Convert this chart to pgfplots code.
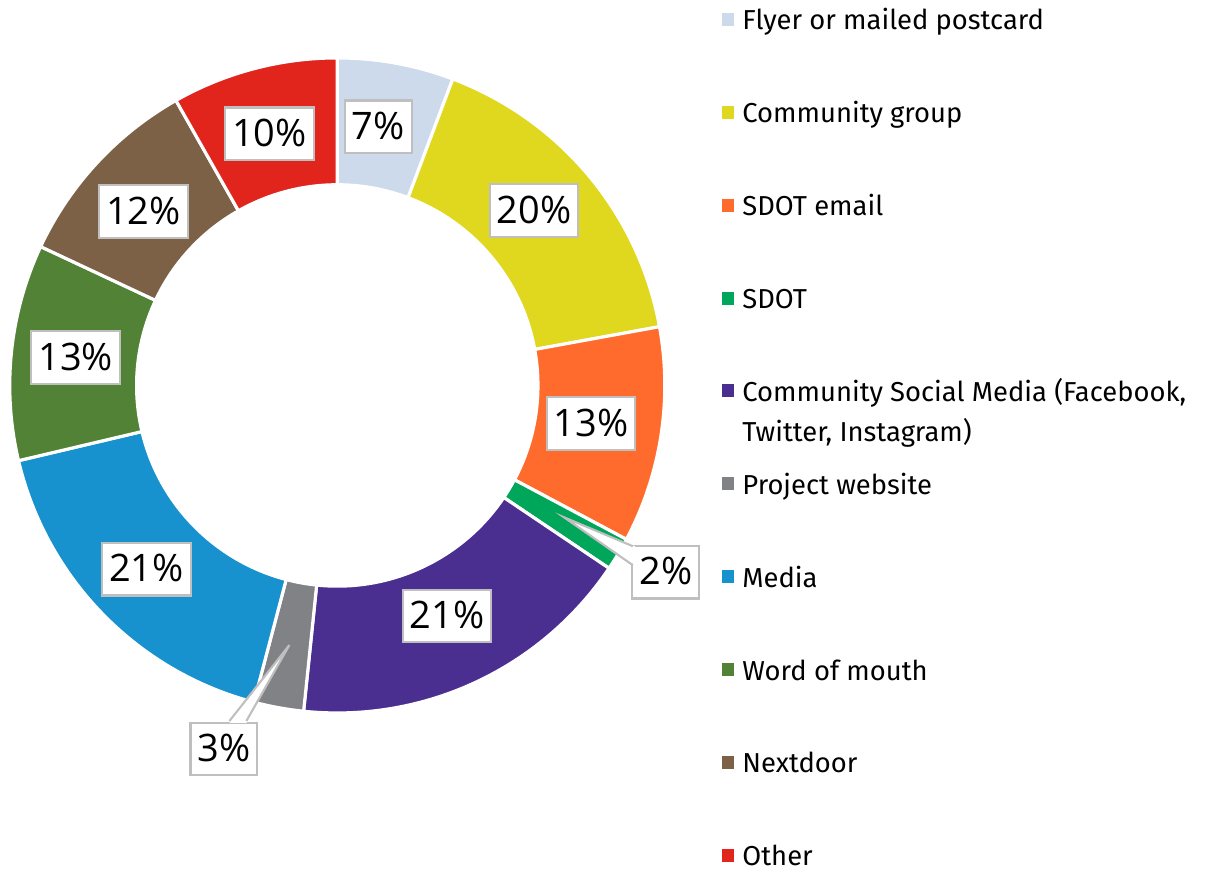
\documentclass[border=0pt]{standalone}
\usepackage{pgfplots}
\pgfplotsset{compat=1.18}
\usepackage{fontspec}
\setmainfont{Fira Sans}
\newfontfamily\labfont{Open Sans}
\usetikzlibrary{calc}
\definecolor{cFly}{HTML}{CCDAEC}
\definecolor{cComm}{HTML}{E0D81E}
\definecolor{cEmail}{HTML}{FF6B2C}
\definecolor{cSdot}{HTML}{00A65A}
\definecolor{cCsm}{HTML}{4A2F91}
\definecolor{cWeb}{HTML}{808285}
\definecolor{cMedia}{HTML}{1891CF}
\definecolor{cWom}{HTML}{528236}
\definecolor{cNext}{HTML}{7D6147}
\definecolor{cOther}{HTML}{E1241C}
\definecolor{cBox}{HTML}{BFBFBF}
\tikzset{
  lab/.style={fill=white, draw=cBox, line width=0.6pt, font=\labfont\fontsize{10.8}{12}\selectfont,
    text height=0.72em, text depth=0pt, inner xsep=2pt, inner ysep=3.9pt},
  leg/.style={anchor=base west, inner sep=0pt, font=\fontsize{7.8}{10.5}\selectfont}}
\begin{document}
\begin{tikzpicture}
\begin{axis}[hide axis, scale only axis, width=12.2cm, height=8.71cm,
  xmin=0, xmax=1220, ymin=0, ymax=871, y dir=reverse, clip=false]
\path (axis cs:0,0) rectangle (axis cs:1220,871);
% data: shares (percent of respondents, total 122)
\gdef\cum{0}
\foreach \v/\col in {7/cFly,20/cComm,13/cEmail,2/cSdot,21/cCsm,3/cWeb,21/cMedia,13/cWom,12/cNext,10/cOther}{
  \pgfmathsetmacro\a{90-(\cum/122)*360}
  \pgfmathsetmacro\nc{\cum+\v}
  \pgfmathsetmacro\b{90-(\nc/122)*360}
  \xdef\cum{\nc}
  \edef\temp{\noexpand\fill[\col,draw=white,line width=0.9pt,line join=round]
    ($(axis cs:336,386)+(\a:3.28cm)$) arc[start angle=\a,end angle=\b,radius=3.28cm]
    -- ($(axis cs:336,386)+(\b:2.01cm)$) arc[start angle=\b,end angle=\a,radius=2.01cm] -- cycle;}
  \temp
}
% data labels
\node[lab] at (axis cs:377,127) {7\%};
\node[lab] at (axis cs:533,211) {20\%};
\node[lab] at (axis cs:590,424) {13\%};
\node[lab] at (axis cs:446,617) {21\%};
\node[lab] at (axis cs:145,570) {21\%};
\node[lab] at (axis cs:74,358) {13\%};
\node[lab] at (axis cs:142,212) {12\%};
\node[lab] at (axis cs:268,134) {10\%};
\node[lab] at (axis cs:665,573) {2\%};
\node[lab] at (axis cs:222.5,750) {3\%};
% leaders
\fill[white] (axis cs:563,518) -- (axis cs:634,547) -- (axis cs:634,566) -- cycle;
\draw[cBox,line width=0.6pt] (axis cs:632,547) -- (axis cs:563,518) -- (axis cs:632,566);
\fill[white] (axis cs:288,646) -- (axis cs:228,724) -- (axis cs:245,724) -- cycle;
\draw[cBox,line width=0.6pt] (axis cs:228,722) -- (axis cs:288,646) -- (axis cs:245,722);
% legend
\fill[cFly]   (axis cs:721,13)  rectangle (axis cs:733,26);
\fill[cComm]  (axis cs:721,106) rectangle (axis cs:733,119);
\fill[cEmail] (axis cs:721,199) rectangle (axis cs:733,212);
\fill[cSdot]  (axis cs:721,292) rectangle (axis cs:733,305);
\fill[cCsm]   (axis cs:721,385) rectangle (axis cs:733,398);
\fill[cWeb]   (axis cs:721,478) rectangle (axis cs:733,491);
\fill[cMedia] (axis cs:721,571) rectangle (axis cs:733,584);
\fill[cWom]   (axis cs:721,664) rectangle (axis cs:733,677);
\fill[cNext]  (axis cs:721,757) rectangle (axis cs:733,770);
\fill[cOther] (axis cs:721,850) rectangle (axis cs:733,863);
\node[leg] at (axis cs:741,30)  {Flyer or mailed postcard};
\node[leg] at (axis cs:741,123) {Community group};
\node[leg] at (axis cs:741,216) {SDOT email};
\node[leg] at (axis cs:741,309) {SDOT};
\node[leg] at (axis cs:741,402) {Community Social Media (Facebook,};
\node[leg] at (axis cs:741,442) {Twitter, Instagram)};
\node[leg] at (axis cs:741,495) {Project website};
\node[leg] at (axis cs:741,588) {Media};
\node[leg] at (axis cs:741,681) {Word of mouth};
\node[leg] at (axis cs:741,774) {Nextdoor};
\node[leg] at (axis cs:741,867) {Other};
\end{axis}
\end{tikzpicture}
\end{document}
